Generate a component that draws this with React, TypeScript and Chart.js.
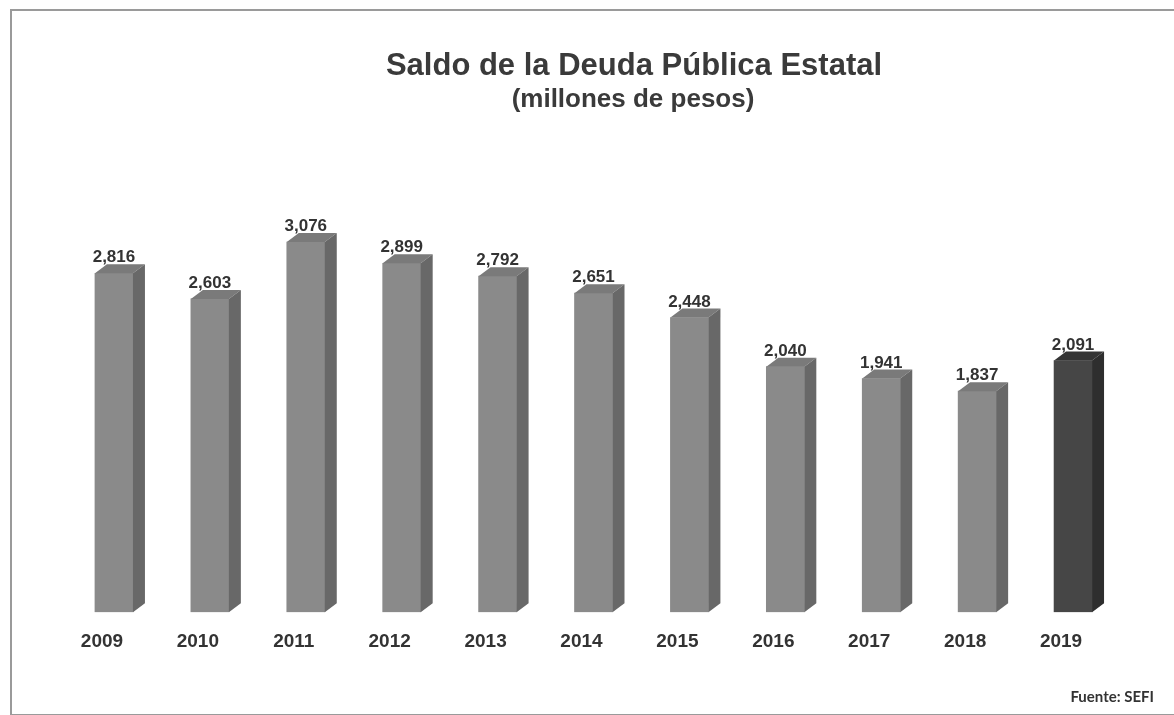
import React, { useEffect, useRef } from "react";
import { Chart, registerables } from "chart.js";

Chart.register(...registerables);

const years = ["2009", "2010", "2011", "2012", "2013", "2014", "2015", "2016", "2017", "2018", "2019"];
const saldo = [2816, 2603, 3076, 2899, 2792, 2651, 2448, 2040, 1941, 1837, 2091];
const valueLabels = ["2,816", "2,603", "3,076", "2,899", "2,792", "2,651", "2,448", "2,040", "1,941", "1,837", "2,091"];

const titleText = "Saldo de la Deuda Pública Estatal";
const subtitleText = "(millones de pesos)";
const sourceText = "Fuente: SEFI";

const FONT = "'Liberation Sans', Arial, Helvetica, sans-serif";
const DX = 12;
const DY = 9;
const isHighlight = (i: number) => i === saldo.length - 1;
const frontColor = (i: number) => (isHighlight(i) ? "#464646" : "#8a8a8a");
const topColor = (i: number) => (isHighlight(i) ? "#353535" : "#7a7a7a");
const sideColor = (i: number) => (isHighlight(i) ? "#2e2e2e" : "#686868");

const bar3d = {
  id: "bar3d",
  afterDatasetsDraw(chart: any) {
    const ctx = chart.ctx as CanvasRenderingContext2D;
    const meta = chart.getDatasetMeta(0);
    const base = chart.scales.y.getPixelForValue(0);
    ctx.save();
    meta.data.forEach((el: any, i: number) => {
      const { x, y, width } = el.getProps(["x", "y", "width"], true);
      const x0 = x - width / 2;
      const x1 = x + width / 2;
      ctx.fillStyle = topColor(i);
      ctx.beginPath();
      ctx.moveTo(x0, y);
      ctx.lineTo(x1, y);
      ctx.lineTo(x1 + DX, y - DY);
      ctx.lineTo(x0 + DX, y - DY);
      ctx.closePath();
      ctx.fill();
      ctx.fillStyle = sideColor(i);
      ctx.beginPath();
      ctx.moveTo(x1, y);
      ctx.lineTo(x1 + DX, y - DY);
      ctx.lineTo(x1 + DX, base - DY);
      ctx.lineTo(x1, base);
      ctx.closePath();
      ctx.fill();
      ctx.fillStyle = "#333333";
      ctx.font = `bold 17px ${FONT}`;
      ctx.textAlign = "center";
      ctx.textBaseline = "alphabetic";
      ctx.fillText(valueLabels[i], x, y - DY - 2);
    });
    ctx.restore();
  },
};

export default function App() {
  const ref = useRef<HTMLCanvasElement | null>(null);

  useEffect(() => {
    if (!ref.current) return;
    const chart = new Chart(ref.current, {
      type: "bar",
      data: {
        labels: years,
        datasets: [
          {
            data: saldo,
            backgroundColor: saldo.map((_, i) => frontColor(i)),
            borderWidth: 0,
            barThickness: 38,
          },
        ],
      },
      options: {
        animation: false,
        responsive: false,
        maintainAspectRatio: false,
        layout: { padding: { left: 66, right: 53, top: 191, bottom: 44 } },
        scales: {
          x: {
            grid: { display: false, drawTicks: false },
            border: { display: false },
            ticks: {
              color: "#333333",
              font: { family: FONT, size: 19, weight: "bold" },
              padding: 18,
              labelOffset: -12,
            },
          },
          y: { display: false, min: 0, max: 3500 },
        },
        plugins: {
          legend: { display: false },
          tooltip: { enabled: false },
          title: { display: false },
        },
      },
      plugins: [bar3d],
    });
    return () => chart.destroy();
  }, []);

  return (
    <div style={{ position: "fixed", left: 0, top: 0, width: 1174, height: 715, background: "#ffffff", overflow: "hidden" }}>
      <div
        style={{
          position: "absolute",
          left: 10,
          top: 9,
          width: 1200,
          height: 703,
          borderLeft: "2px solid #9a9a9a",
          borderTop: "2px solid #9a9a9a",
          borderBottom: "2px solid #9a9a9a",
        }}
      />
      <canvas ref={ref} width={1174} height={715} style={{ position: "absolute", left: 0, top: 0 }} />
      <div
        style={{
          position: "absolute",
          left: 634,
          top: 49,
          transform: "translateX(-50%)",
          whiteSpace: "nowrap",
          fontFamily: FONT,
          fontWeight: "bold",
          fontSize: 31,
          lineHeight: 1,
          color: "#3a3a3a",
        }}
      >
        {titleText}
      </div>
      <div
        style={{
          position: "absolute",
          left: 633,
          top: 85,
          transform: "translateX(-50%)",
          whiteSpace: "nowrap",
          fontFamily: FONT,
          fontWeight: "bold",
          fontSize: 26,
          lineHeight: 1,
          color: "#3a3a3a",
        }}
      >
        {subtitleText}
      </div>
      <div
        style={{
          position: "absolute",
          right: 20,
          top: 689,
          whiteSpace: "nowrap",
          fontFamily: "Lato, 'Open Sans', sans-serif",
          fontWeight: "bold",
          fontSize: 15,
          lineHeight: 1,
          color: "#333333",
        }}
      >
        {sourceText}
      </div>
    </div>
  );
}
